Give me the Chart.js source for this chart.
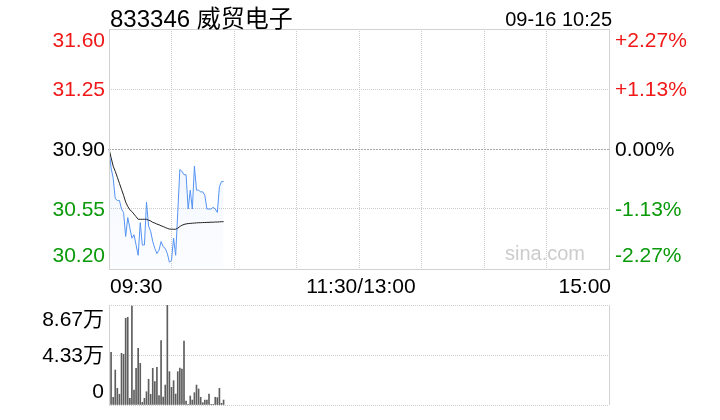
<!DOCTYPE html>
<html>
<head>
<meta charset="utf-8">
<script src="https://cdn.jsdelivr.net/npm/chart.js@4.4.1/dist/chart.umd.min.js"></script>
<style>
    html, body { margin: 0; padding: 0; background: #fff; }
    #wrap { position: relative; width: 720px; height: 420px; }
    #wrap canvas { position: absolute; left: 0; top: 0; }
</style>
</head>
<body>
<div id="wrap">
    <canvas id="priceChart" width="720" height="420"></canvas>
    <canvas id="volChart" width="720" height="420"></canvas>
</div>
<script>
// ── Data ─────────────────────────────────────────────────────
const stockTitle = '833346 威贸电子';
const stampText  = '09-16 10:25';
const prevClose  = 30.90;

const priceTicks    = [31.60, 31.25, 30.90, 30.55, 30.20];
const pctLabels     = ['+2.27%', '+1.13%', '0.00%', '-1.13%', '-2.27%'];
const volTicks      = [86700, 43300, 0];
const volTickLabels = ['8.67万', '4.33万', '0'];
const timeTickLabels = ['09:30', '11:30/13:00', '15:00'];
const timeTickKeys   = ['09:30', '11:30', '15:00'];

// one price / avg / volume per minute, 09:30 .. 10:25
const priceData = [
    30.90, 30.79, 30.73, 30.61, 30.60, 30.60, 30.55, 30.53, 30.39, 30.50,
    30.44, 30.38, 30.40, 30.34, 30.28, 30.47, 30.34, 30.34, 30.59, 30.45,
    30.42, 30.36, 30.32, 30.29, 30.31, 30.36, 30.33, 30.32, 30.29, 30.24,
    30.25, 30.38, 30.28, 30.53, 30.78, 30.77, 30.75, 30.75, 30.55, 30.66,
    30.55, 30.80, 30.66, 30.66, 30.65, 30.65, 30.63, 30.55, 30.55, 30.55,
    30.56, 30.55, 30.53, 30.68, 30.71, 30.71
];
const avgData = [
    30.900, 30.850, 30.800, 30.770, 30.735, 30.700, 30.665, 30.630, 30.590, 30.565,
    30.545, 30.535, 30.520, 30.505, 30.490, 30.490, 30.490, 30.490, 30.490, 30.485,
    30.480, 30.472, 30.468, 30.462, 30.458, 30.452, 30.448, 30.442, 30.437, 30.433,
    30.432, 30.432, 30.432, 30.438, 30.448, 30.455, 30.460, 30.463, 30.465, 30.466,
    30.467, 30.468, 30.469, 30.470, 30.470, 30.471, 30.471, 30.472, 30.472, 30.473,
    30.473, 30.474, 30.474, 30.475, 30.476, 30.476
];
const volData = [
    4300, 45700, 6700, 30300, 14500, 9300, 44800, 44000, 75200, 76000,
    5800, 85800, 13000, 31800, 49100, 36100, 2300, 5800, 11500, 22300,
    9300, 31800, 20200, 32700, 8100, 55800, 6900, 17300, 86700, 28900,
    15300, 21100, 9500, 28900, 32100, 31200, 55500, 3500, 300, 7800,
    4300, 10700, 17300, 13900, 6700, 2000, 4300, 4300, 9500, 600,
    600, 6700, 6400, 14500, 1500, 4300
];

// trading minutes 09:30-11:30, 13:01-15:00
function buildMinutes() {
    const out = [];
    const push = (h, m) => out.push(String(h).padStart(2, '0') + ':' + String(m).padStart(2, '0'));
    for (let t = 9 * 60 + 30; t <= 11 * 60 + 30; t++) push(Math.floor(t / 60), t % 60);
    for (let t = 13 * 60 + 1; t <= 15 * 60; t++) push(Math.floor(t / 60), t % 60);
    return out;
}
const minuteLabels = buildMinutes();

// ── Styles ───────────────────────────────────────────────────
const FONT  = '"Liberation Sans", Arial, "Noto Sans CJK SC", sans-serif';
const RED   = '#f01818';
const GREEN = '#0a9a0a';
const FRAME = '#d2d2d2';
const GRID  = '#cdcdcd';

function levelColor(v) {
    if (v > prevClose + 1e-9) return RED;
    if (v < prevClose - 1e-9) return GREEN;
    return '#000';
}

function setTicks(values) {
    return function (scale) {
        scale.ticks = [...values].sort((a, b) => a - b).map(v => ({ value: v }));
    };
}

// ── Price panel ──────────────────────────────────────────────
const priceFrame = {
    id: 'priceFrame',
    afterDraw(chart) {
        const { ctx, chartArea: a, scales: { x, y } } = chart;
        ctx.save();
        ctx.strokeStyle = FRAME;
        ctx.lineWidth = 1;
        ctx.strokeRect(Math.round(a.left) + 0.5, Math.round(a.top) + 0.5,
                       Math.round(a.width), Math.round(a.height));

        // watermark
        ctx.fillStyle = '#cccccc';
        ctx.font = '20px ' + FONT;
        ctx.textAlign = 'right';
        ctx.textBaseline = 'alphabetic';
        ctx.fillText('sina.com', a.right - 24, a.bottom - 9);

        // price + percent labels
        ctx.font = '21px ' + FONT;
        const last = priceTicks.length - 1;
        priceTicks.forEach(function (v, i) {
            const py = y.getPixelForValue(v);
            const base = i === 0 ? py + 18 : (i === last ? py - 7 : py + 7);
            ctx.fillStyle = levelColor(v);
            ctx.textAlign = 'right';
            ctx.fillText(v.toFixed(2), a.left - 4, base);
            ctx.textAlign = 'left';
            ctx.fillText(pctLabels[i], a.right + 6, base);
        });

        // time labels
        ctx.fillStyle = '#000';
        const aligns = ['left', 'center', 'right'];
        const nudge  = [1, 2, 2];
        timeTickLabels.forEach(function (txt, i) {
            const px = x.getPixelForValue(minuteLabels.indexOf(timeTickKeys[i]));
            ctx.textAlign = aligns[i];
            ctx.fillText(txt, px + nudge[i], a.bottom + 24);
        });

        // header
        ctx.font = '24px ' + FONT;
        ctx.textAlign = 'left';
        ctx.fillText(stockTitle, a.left + 1, 27);
        ctx.font = '20px ' + FONT;
        ctx.textAlign = 'right';
        ctx.fillText(stampText, a.right + 3, 26);
        ctx.restore();
    }
};

new Chart(document.getElementById('priceChart'), {
    type: 'line',
    data: {
        labels: minuteLabels,
        datasets: [
            {
                label: 'avg',
                data: avgData,
                borderColor: '#222',
                borderWidth: 1,
                pointRadius: 0,
                fill: false,
            },
            {
                label: 'price',
                data: priceData,
                borderColor: '#5593f3',
                borderWidth: 1,
                pointRadius: 0,
                fill: 'start',
                backgroundColor: function (c) {
                    const area = c.chart.chartArea;
                    if (!area) return 'rgba(85,147,243,0.08)';
                    const g = c.chart.ctx.createLinearGradient(0, area.top, 0, area.bottom);
                    g.addColorStop(0, 'rgba(85,147,243,0.14)');
                    g.addColorStop(1, 'rgba(85,147,243,0.02)');
                    return g;
                },
            },
        ],
    },
    options: {
        responsive: false,
        animation: false,
        devicePixelRatio: 1,
        layout: { padding: { left: 109, right: 111, top: 29, bottom: 151 } },
        plugins: { legend: { display: false }, tooltip: { enabled: false } },
        scales: {
            x: {
                type: 'category',
                offset: false,
                ticks: { display: false },
                grid: {
                    drawTicks: false,
                    color: c => (c.index % 30 === 0 && c.index !== 0 && c.index !== 240) ? GRID : 'transparent',
                },
                border: { display: false, dash: [1, 1] },
                afterFit: s => { s.height = 0; },
            },
            y: {
                min: 30.20,
                max: 31.60,
                afterBuildTicks: setTicks(priceTicks),
                ticks: { display: false },
                grid: {
                    drawTicks: false,
                    color: c => {
                        const v = c.tick ? c.tick.value : null;
                        if (v === priceTicks[0] || v === priceTicks[priceTicks.length - 1]) return 'transparent';
                        return v === prevClose ? '#a8a8a8' : GRID;
                    },
                },
                border: {
                    display: false,
                    dash: c => (c.tick && c.tick.value === prevClose) ? [2, 1] : [1, 1],
                },
                afterFit: s => { s.width = 0; },
            },
        },
    },
    plugins: [priceFrame],
});

// ── Volume panel ─────────────────────────────────────────────
const volFrame = {
    id: 'volFrame',
    afterDraw(chart) {
        const { ctx, chartArea: a, scales: { y } } = chart;
        ctx.save();
        ctx.strokeStyle = FRAME;
        ctx.lineWidth = 1;
        ctx.beginPath();
        ctx.moveTo(Math.round(a.left) + 0.5, a.top);
        ctx.lineTo(Math.round(a.left) + 0.5, a.bottom);
        ctx.moveTo(Math.round(a.right) + 0.5, a.top);
        ctx.lineTo(Math.round(a.right) + 0.5, a.bottom);
        ctx.stroke();

        ctx.fillStyle = '#000';
        ctx.font = '21px ' + FONT;
        ctx.textAlign = 'right';
        ctx.textBaseline = 'alphabetic';
        const last = volTicks.length - 1;
        volTicks.forEach(function (v, i) {
            const py = y.getPixelForValue(v);
            const base = i === 0 ? py + 21 : (i === last ? py - 7 : py + 7);
            ctx.fillText(volTickLabels[i], a.left - 5, base);
        });
        ctx.restore();
    }
};

new Chart(document.getElementById('volChart'), {
    type: 'bar',
    data: {
        labels: minuteLabels,
        datasets: [{
            label: 'volume',
            data: volData,
            backgroundColor: '#5e5e5e',
            barThickness: 1,
            borderWidth: 0,
        }],
    },
    options: {
        responsive: false,
        animation: false,
        devicePixelRatio: 1,
        layout: { padding: { left: 109, right: 111, top: 305, bottom: 15 } },
        plugins: { legend: { display: false }, tooltip: { enabled: false } },
        scales: {
            x: {
                type: 'category',
                offset: false,
                ticks: { display: false },
                grid: { display: false, drawTicks: false },
                border: { display: false },
                afterFit: s => { s.height = 0; },
            },
            y: {
                min: 0,
                max: 86700,
                afterBuildTicks: setTicks(volTicks),
                ticks: { display: false },
                grid: { drawTicks: false, color: GRID },
                border: { display: false, dash: [1, 1] },
                afterFit: s => { s.width = 0; },
            },
        },
    },
    plugins: [volFrame],
});
</script>
</body>
</html>
